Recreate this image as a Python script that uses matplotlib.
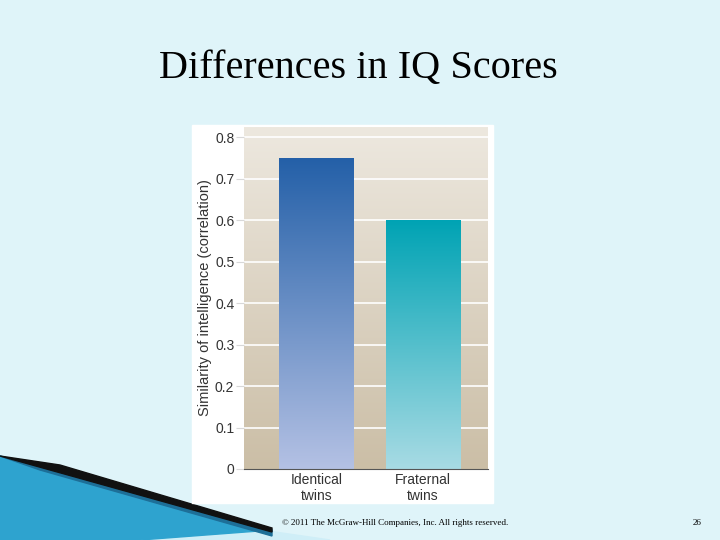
import matplotlib
matplotlib.use("Agg")
import matplotlib.pyplot as plt
import numpy as np
from matplotlib.patches import Rectangle, Polygon
from matplotlib.colors import LinearSegmentedColormap

categories = ["Identical\ntwins", "Fraternal\ntwins"]
values = [0.75, 0.60]
yticks = [0, 0.1, 0.2, 0.3, 0.4, 0.5, 0.6, 0.7, 0.8]
ytick_labels = ["0", "0.1", "0.2", "0.3", "0.4", "0.5", "0.6", "0.7", "0.8"]
bar_colors = [("#2460a8", "#b4c1e4"), ("#00a3b4", "#a8dbe4")]

W, H = 720, 540
fig = plt.figure(figsize=(7.2, 5.4), dpi=100)
fig.patch.set_facecolor("#dff4f9")

def fx(x): return x / W
def fy(y): return 1 - y / H

bg = fig.add_axes([0, 0, 1, 1], zorder=0)
bg.set_xlim(0, W); bg.set_ylim(H, 0); bg.axis("off")
bg.add_patch(Polygon([(0, 470), (0, 540), (330, 540), (275, 532)], closed=True, color="#cfeef7"))
bg.add_patch(Polygon([(0, 456), (0, 540), (140, 540), (272, 530)], closed=True, color="#2ea3cf"))
bg.add_patch(Polygon([(0, 456), (272, 530), (272, 536), (40, 470)], closed=True, color="#1d6f98"))
bg.add_patch(Polygon([(0, 456), (60, 465), (272, 528), (272, 532)], closed=True, color="#111111"))
bg.add_patch(Rectangle((192, 125), 301, 378, color="white"))
bg.text(358, 68, "Differences in IQ Scores", ha="center", va="center",
        fontsize=29, family="Liberation Serif", color="black")
bg.text(395, 523, "© 2011 The McGraw-Hill Companies, Inc. All rights reserved.",
        ha="center", va="center", fontsize=6.5, family="Liberation Serif")
bg.text(697, 523, "26", ha="center", va="center", fontsize=6.5, family="Liberation Serif")

ax = fig.add_axes([fx(244), fy(469), 244 / W, 342 / H], zorder=1)
ymax = 0.825
xlim = (-0.68, 1.61)
bgcm = LinearSegmentedColormap.from_list("bg", ["#cbbea6", "#ede8df"])
ax.imshow(np.linspace(0, 1, 256)[:, None], cmap=bgcm, origin="lower", aspect="auto",
          extent=[xlim[0], xlim[1], 0, ymax], zorder=0)
for t in yticks[1:]:
    ax.axhline(t, color="white", lw=1.2, zorder=1)
width = 0.70
for i, (v, (c1, c2)) in enumerate(zip(values, bar_colors)):
    cm = LinearSegmentedColormap.from_list("b%d" % i, [c2, c1])
    ax.imshow(np.linspace(0, 1, 256)[:, None], cmap=cm, origin="lower", aspect="auto",
              extent=[i - width / 2, i + width / 2, 0, v], zorder=2)
ax.set_xlim(*xlim); ax.set_ylim(0, ymax)
ax.set_xticks(range(len(categories)))
ax.set_xticklabels(categories, fontsize=10, family="Liberation Sans", color="#333333", linespacing=1.15)
ax.set_yticks(yticks)
ax.set_yticklabels(ytick_labels, fontsize=10, family="Liberation Sans", color="#333333")
ax.tick_params(axis="x", length=0, pad=3)
ax.tick_params(axis="y", length=6, color="#d8d8d8", pad=1)
for s in ["top", "right", "left"]:
    ax.spines[s].set_visible(False)
ax.spines["bottom"].set_color("#555555")
ax.set_ylabel("Similarity of intelligence (correlation)", fontsize=10.5,
              family="Liberation Sans", color="#333333", labelpad=2)
fig.savefig("out.png", dpi=100, facecolor=fig.get_facecolor())
